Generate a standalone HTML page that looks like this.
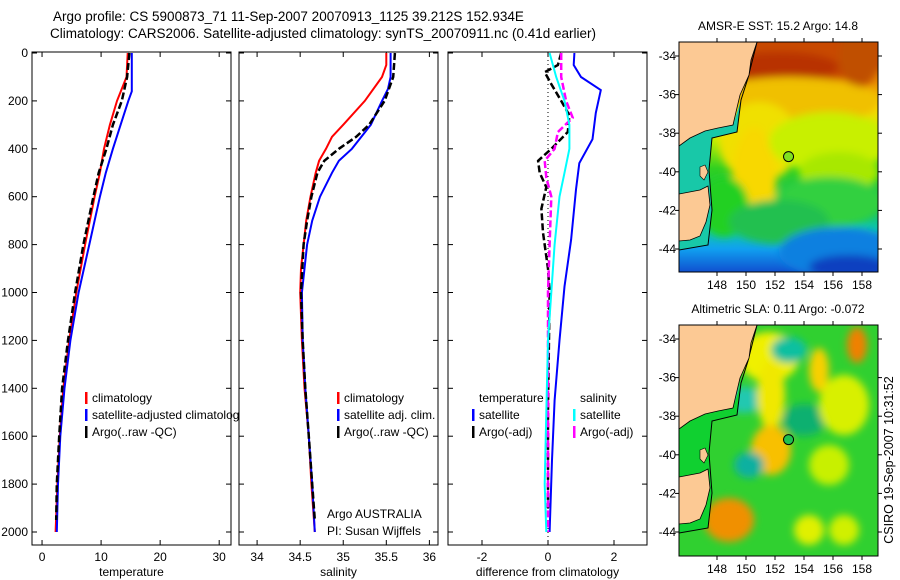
<!DOCTYPE html>
<html><head><meta charset="utf-8">
<style>
html,body{margin:0;padding:0;background:#fff;}
svg{display:block;font-family:"Liberation Sans",sans-serif;}
</style></head>
<body>
<svg id="fig" width="900" height="580" viewBox="0 0 900 580">
<defs>
<filter id="blur4" x="-20%" y="-20%" width="140%" height="140%"><feGaussianBlur stdDeviation="4"/></filter>
<clipPath id="clipMap1"><rect x="679" y="42" width="199" height="230"/></clipPath>
<clipPath id="clipMap2"><rect x="679" y="325" width="199" height="231"/></clipPath>
<linearGradient id="sstGrad" x1="0" y1="0" x2="0" y2="1">
<stop offset="0" stop-color="#c84a00"/><stop offset="0.17" stop-color="#e88a00"/>
<stop offset="0.28" stop-color="#f8d800"/><stop offset="0.42" stop-color="#c8f000"/>
<stop offset="0.55" stop-color="#30d020"/><stop offset="0.72" stop-color="#10c060"/>
<stop offset="0.82" stop-color="#10c8b0"/><stop offset="0.9" stop-color="#10a0f0"/>
<stop offset="1" stop-color="#1050d0"/></linearGradient>
</defs>
<text x="53" y="21" font-size="13.5">Argo profile: CS 5900873_71 11-Sep-2007 20070913_1125 39.212S 152.934E</text>
<text x="50" y="38" font-size="13.5">Climatology: CARS2006. Satellite-adjusted climatology: synTS_20070911.nc (0.41d earlier)</text>
<g id="panels"></g>
<g id="maps"></g>
<text transform="translate(893,460) rotate(-90)" text-anchor="middle" font-size="12.5">CSIRO 19-Sep-2007 10:31:52</text>
</svg>
<script>
// ===== data =====
const depthTicks=[0,200,400,600,800,1000,1200,1400,1600,1800,2000];
const tempTicks=[0,10,20,30];
const salTicks=[34,34.5,35,35.5,36];
const salTickLabels=["34","34.5","35","35.5","36"];
const diffTicks=[-2,0,2];
const tempClimDepth=[0,50,100,200,300,400,500,600,800,1000,1200,1400,1600,1800,2000];
const tempClimVal=[14.5,14.4,14.3,12.7,11.5,10.5,9.8,8.9,7.3,5.8,4.6,3.6,3.0,2.6,2.3];
const tempSatDepth=[0,100,160,200,300,400,500,600,800,1000,1200,1400,1600,1800,2000];
const tempSatVal=[15.2,15.2,15.2,14.6,13.3,12.0,10.8,9.8,8.0,6.2,4.8,3.8,3.1,2.7,2.5];
const tempArgoDepth=[0,100,200,300,400,500,600,800,1000,1200,1400,1600,1800,1950];
const tempArgoVal=[14.8,14.4,13.5,12.0,10.9,9.6,8.7,7.0,5.6,4.4,3.4,2.9,2.5,2.4];
const salClimDepth=[0,50,100,200,300,350,400,450,500,600,700,800,900,1000,1200,1400,1600,1800,2000];
const salClimVal=[35.5,35.5,35.45,35.25,35.0,34.87,34.8,34.72,34.68,34.62,34.57,34.54,34.51,34.5,34.52,34.55,34.6,34.63,34.67];
const salSatDepth=[0,100,150,200,300,400,450,500,600,700,800,900,1000,1200,1400,1600,1800,2000];
const salSatVal=[35.55,35.55,35.52,35.45,35.32,35.1,34.95,34.87,34.73,34.64,34.58,34.55,34.52,34.53,34.56,34.6,34.64,34.67];
const salArgoDepth=[0,100,200,300,350,400,450,500,600,700,800,1000,1200,1400,1600,1800,1950];
const salArgoVal=[35.6,35.58,35.48,35.3,35.15,34.95,34.78,34.7,34.63,34.58,34.54,34.51,34.53,34.56,34.6,34.64,34.67];
const dTempSatDepth=[0,50,100,155,250,360,460,570,780,975,1200,1450,1700,2000];
const dTempSatVal=[0.8,0.78,1.0,1.6,1.45,1.35,0.95,0.85,0.7,0.5,0.35,0.2,0.12,0.05];
const dTempArgoDepth=[0,50,80,130,200,260,330,400,450,500,560,650,750,900,1000,1500,1900];
const dTempArgoVal=[0.4,0.3,-0.1,0.1,0.4,0.65,0.6,0.1,-0.3,-0.25,-0.05,-0.2,-0.15,0.0,0.05,0.0,0.0];
const dSalSatDepth=[0,100,200,300,400,500,600,800,1000,1200,1500,1800,2000];
const dSalSatVal=[0.05,0.25,0.5,0.65,0.65,0.5,0.35,0.2,0.1,0.0,-0.05,-0.1,-0.05];
const dSalArgoDepth=[0,100,200,270,330,400,450,520,600,800,1000,1500,2000];
const dSalArgoVal=[0.4,0.4,0.55,0.75,0.3,0.2,-0.1,-0.05,0.1,0.05,0.0,0.0,0.0];
const lonTicks=[148,150,152,154,156,158];
const latTicks=[-34,-36,-38,-40,-42,-44];
const argoLon=152.934, argoLat=-39.212;

const NS="http://www.w3.org/2000/svg";
function mk(tag,attrs,parent,txt){const e=document.createElementNS(NS,tag);for(const k in attrs)e.setAttribute(k,attrs[k]);if(txt!==undefined)e.textContent=txt;parent.appendChild(e);return e;}
const yTop=52,yBot=545;
function yD(d){return 53+d*(532-53)/2000;}
const panels=document.getElementById('panels');

function panel(name,x0,x1,vmin,vmax,ticks,labels,xlabel,showY){
  const g=mk('g',{},panels);
  
  
  const sx=v=>x0+(v-vmin)/(vmax-vmin)*(x1-x0);
  const fr=mk('rect',{x:x0,y:yTop,width:x1-x0,height:yBot-yTop,fill:'#fff',stroke:'#000','stroke-width':1},g);
  
  
  ticks.forEach((t,i)=>{const x=sx(t);
    mk('line',{x1:x,x2:x,y1:yBot,y2:yBot-5,stroke:'#000'},g);
    mk('line',{x1:x,x2:x,y1:yTop,y2:yTop+5,stroke:'#000'},g);
    const tl=mk('text',{x:x,y:yBot+16,'text-anchor':'middle','font-size':12},g,labels[i]);
    
    
  });
  depthTicks.forEach(d=>{const y=yD(d);
    mk('line',{x1:x0,x2:x0+5,y1:y,y2:y,stroke:'#000'},g);
    mk('line',{x1:x1,x2:x1-5,y1:y,y2:y,stroke:'#000'},g);
    if(showY){const yl=mk('text',{x:x0-4,y:y+4,'text-anchor':'end','font-size':12},g,String(d));
      
      }
  });
  const xl=mk('text',{x:(x0+x1)/2,y:576,'text-anchor':'middle','font-size':12},g,xlabel);
  
  
  return {g,sx};
}
function line(p,depths,vals,color,dash,name){
  const pts=depths.map((d,i)=>p.sx(vals[i]).toFixed(1)+','+yD(d).toFixed(1)).join(' ');
  const a={points:pts,fill:'none',stroke:color,'stroke-width':dash?2.5:2};
  if(dash)a['stroke-dasharray']=dash;
  const e=mk('polyline',a,p.g);
  
  
}
function legend(p,x,y,items,w){
  const lg=mk('g',{},p.g);
  
  
  if(w) mk('rect',{x:x-4,y:y-12,width:w,height:items.length*17+2,fill:'#fff'},lg);
  items.forEach((it,i)=>{const yy=y+i*17;
    if(it[1]) mk('rect',{x:x,y:yy-10,width:2.5,height:12,fill:it[1]},lg);
    const t=mk('text',{x:x+(it[2]===false?0:7),y:yy,'font-size':12},lg,it[0]);
    
    
  });
}

const p1=panel('temperature-panel',32,231,-1.7,32,tempTicks,tempTicks.map(String),'temperature',true);
line(p1,tempClimDepth,tempClimVal,'#ff0000',null,'temp-climatology-line');
line(p1,tempSatDepth,tempSatVal,'#0000ff',null,'temp-satellite-line');
line(p1,tempArgoDepth,tempArgoVal,'#000',"7,3",'temp-argo-line');
legend(p1,85,402,[['climatology','#ff0000'],['satellite-adjusted climatology','#0000ff'],['Argo(..raw -QC)','#000']],0);

const p2=panel('salinity-panel',239,438,33.79,36.1,salTicks,salTickLabels,'salinity',false);
line(p2,salClimDepth,salClimVal,'#ff0000',null,'sal-climatology-line');
line(p2,salSatDepth,salSatVal,'#0000ff',null,'sal-satellite-line');
line(p2,salArgoDepth,salArgoVal,'#000',"7,3",'sal-argo-line');
legend(p2,337,402,[['climatology','#ff0000'],['satellite adj. clim.','#0000ff'],['Argo(..raw -QC)','#000']],0);
const t1=mk('text',{x:327,y:518,'font-size':12},p2.g,'Argo AUSTRALIA');

const t2=mk('text',{x:327,y:535,'font-size':12},p2.g,'PI: Susan Wijffels');


const p3=panel('difference-panel',448,647,-3.03,3.0,diffTicks,diffTicks.map(String),'difference from climatology',false);
const zl=mk('line',{x1:p3.sx(0),x2:p3.sx(0),y1:yTop,y2:yBot,stroke:'#000','stroke-dasharray':'1,3'},p3.g);

line(p3,dTempSatDepth,dTempSatVal,'#0000ff',null,'dtemp-satellite-line');
line(p3,dTempArgoDepth,dTempArgoVal,'#000',"7,3",'dtemp-argo-line');
line(p3,dSalArgoDepth,dSalArgoVal,'#ff00ff',"7,3",'dsal-argo-line');
line(p3,dSalSatDepth,dSalSatVal,'#00ffff',null,'dsal-satellite-line');
legend(p3,472,402,[['temperature',null],['satellite','#0000ff'],['Argo(-adj)','#000']],75);
legend(p3,573,402,[['salinity',null],['satellite','#00ffff'],['Argo(-adj)','#ff00ff']],70);

// ===== maps =====
const maps=document.getElementById('maps');
function map(name,y0,title,blobs,base,marker,shelfColor){
  const g=mk('g',{},maps);
  
  
  const x0=679,x1=878,h=y0===42?230:231;
  const lx=l=>717+(l-148)*14.5, ly=la=>(y0+14)+(-34-la)*19.3;
  const inner=mk('g',{'clip-path':'url(#'+(y0===42?'clipMap1':'clipMap2')+')'},g);
  mk('rect',{x:x0,y:y0,width:199,height:h,fill:base},inner);
  const bl=mk('g',{filter:'url(#blur4)'},inner);
  blobs.forEach(b=>mk('ellipse',{cx:x0+b[0],cy:y0+b[1],rx:b[2],ry:b[3],fill:b[4]},bl));
  const o=y0-42;
  // shelf region (inside the 200m contour)
  mk('polygon',{points:`757,${42+o} 748,${78+o} 741,${100+o} 737,${132+o} 712,${138+o} 709,${170+o} 712,${210+o} 708,${245+o} 679,${250+o} 679,${140+o} 705,${131+o} 733,${125+o} 749,${75+o}`,fill:shelfColor},inner);
  mk('polyline',{points:`757,${42+o} 748,${78+o} 741,${100+o} 737,${132+o} 712,${138+o} 709,${170+o} 712,${210+o} 708,${245+o} 679,${250+o}`,fill:'none',stroke:'#000','stroke-width':1},inner);
  const land=mk('polygon',{points:`679,${42+o} 757,${42+o} 751,${60+o} 749,${75+o} 740,${95+o} 736,${112+o} 733,${125+o} 718,${128+o} 705,${131+o} 690,${138+o} 679,${146+o}`,fill:'#fcc994',stroke:'#000','stroke-width':0.8},inner);
  
  const tas=mk('polygon',{points:`679,${194+o} 700,${190+o} 708,${186+o} 710,${205+o} 706,${222+o} 700,${236+o} 690,${240+o} 679,${241+o}`,fill:'#fcc994',stroke:'#000','stroke-width':0.8},inner);
  
  mk('polygon',{points:`700,${167+o} 705,${165+o} 708,${172+o} 704,${180+o} 700,${176+o}`,fill:'#fcc994',stroke:'#000','stroke-width':0.6},inner);
  mk('rect',{x:x0,y:y0,width:199,height:h,fill:'none',stroke:'#000'},g);
  lonTicks.forEach(l=>{const x=lx(l);
    mk('line',{x1:x,x2:x,y1:y0+h,y2:y0+h+4,stroke:'#000'},g);
    mk('line',{x1:x,x2:x,y1:y0,y2:y0-4,stroke:'#000'},g);
    const t=mk('text',{x:x,y:y0+h+17,'text-anchor':'middle','font-size':12},g,String(l));
    
  });
  latTicks.forEach(la=>{const y=ly(la);
    mk('line',{x1:x0,x2:x0-4,y1:y,y2:y,stroke:'#000'},g);
    mk('line',{x1:x1,x2:x1+4,y1:y,y2:y,stroke:'#000'},g);
    const t=mk('text',{x:x0-3,y:y+4,'text-anchor':'end','font-size':12},g,String(la));
    
  });
  const tt=mk('text',{x:778,y:y0-12,'text-anchor':'middle','font-size':12},g,title);
  
  const c=mk('circle',{cx:lx(argoLon),cy:ly(argoLat),r:5,fill:marker,stroke:'#000','stroke-width':1},g);
  
}
map('sst-map',42,'AMSR-E SST: 15.2 Argo: 14.8',[
 [120,0,110,40,'#c84a00'],[100,25,60,15,'#b83000'],[180,15,20,30,'#c05000'],
 [110,60,90,25,'#f0c000'],[80,100,40,40,'#f0e000'],[75,140,22,55,'#f8d800'],
 [150,100,60,30,'#c8f000'],[160,130,40,20,'#a8e800'],[150,160,55,25,'#30d040'],
 [45,165,25,30,'#20d020'],[100,180,50,22,'#20c050'],[160,210,60,25,'#1080e0'],[170,225,40,12,'#1040c0']
],'url(#sstGrad)','#80e020','#18c8a8');
map('sla-map',325,'Altimetric SLA: 0.11 Argo: -0.072',[
 [85,33,18,15,'#f08000'],[140,45,10,22,'#f8d000'],[90,32,30,25,'#f0f000'],
 [110,25,18,13,'#10c0a0'],[178,20,10,18,'#f08000'],[65,75,20,13,'#20c8b0'],
 [125,95,22,16,'#10b070'],[92,70,14,35,'#f0e800'],[92,125,20,25,'#f8c000'],
 [165,80,25,30,'#d8f000'],[70,140,15,13,'#10b0a0'],[50,195,25,22,'#f09000'],
 [150,140,20,20,'#c8f000'],[130,205,15,15,'#e0f000'],[165,205,15,15,'#d0f000']
],'#30d030','#20c050','#10d030');
</script>
</body></html>
